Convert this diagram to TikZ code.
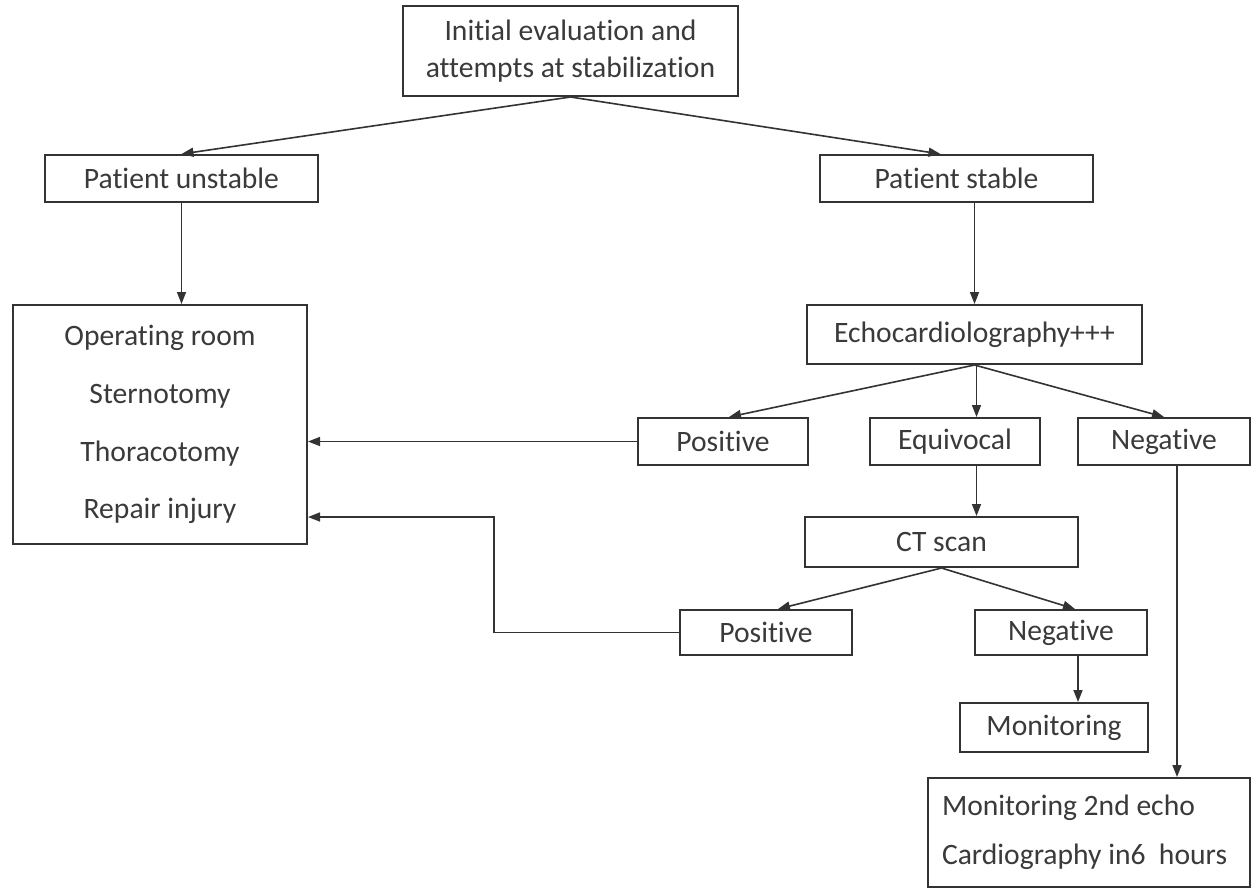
\documentclass[tikz,border=0pt]{standalone}
\usepackage{fontspec}
\setmainfont{Carlito}[Ligatures={NoCommon}]
\usetikzlibrary{arrows.meta,calc}
\definecolor{ink}{HTML}{333333}
\definecolor{txt}{HTML}{3A3A3A}
\begin{document}
\begin{tikzpicture}[x=0.5pt,y=-0.5pt,
  box/.style={draw=ink,line width=1pt,fill=white,text=txt,inner sep=0pt,
    font=\fontsize{14.8}{18.5}\selectfont,align=center},
  conn/.style={draw=ink,line width=0.8pt,-{Triangle[length=6pt,width=4.5pt]}},
  plain/.style={draw=ink,line width=0.8pt}]
\useasboundingbox[fill=white] (0,0) rectangle (1254,890);

\node[box,minimum width=167.5pt,minimum height=45pt] (init) at (570.5,51)
  {Initial evaluation and\\attempts at stabilization};
\node[box,minimum width=136.5pt,minimum height=23.5pt] (unst) at (181.5,178.5) {Patient unstable};
\node[box,minimum width=136.5pt,minimum height=23.5pt] (stab) at (956.5,178.5) {Patient stable};
\node[box,minimum width=147pt,minimum height=119.5pt,
  font=\fontsize{14.8}{28.85}\selectfont] (opr) at (160,424.5)
  {Operating room\\Sternotomy\\Thoracotomy\\Repair injury};
\node[box,minimum width=167.5pt,minimum height=29.5pt] (echo) at (974.5,334.5) {Echocardiolography+++};
\node[box,minimum width=85pt,minimum height=23.5pt] (pos1) at (723,441.5) {Positive};
\node[box,minimum width=85pt,minimum height=23.5pt] (equi) at (955,441.5) {Equivocal};
\node[box,minimum width=86pt,minimum height=23.5pt] (neg1) at (1164,441.5) {Negative};
\node[box,minimum width=136.5pt,minimum height=25pt] (ct) at (941.5,542) {CT scan};
\node[box,minimum width=86pt,minimum height=22.5pt] (pos2) at (766,632.5) {Positive};
\node[box,minimum width=86pt,minimum height=22.5pt] (neg2) at (1061,632.5) {Negative};
\node[box,minimum width=94pt,minimum height=24.5pt] (mon) at (1054,727.5) {Monitoring};
\node[box,text width=147pt,inner xsep=7pt,minimum height=54.5pt,align=flush left,
  font=\fontsize{14.8}{24.5}\selectfont] (bot) at (1089,832.5)
  {Monitoring 2nd echo\\Cardiography in6\ \ hours};

\coordinate (jog) at (494,517);

\draw[conn] (init.south) -- (unst.north);
\draw[conn] (init.south) -- ([xshift=-8pt]stab.north);
\draw[conn] (unst.south) -- (unst.south |- opr.north);
\draw[conn] (echo.north |- stab.south) -- (echo.north);
\draw[conn] (echo.south) -- ([xshift=3pt]pos1.north);
\draw[conn] ([xshift=1pt]echo.south) -- ([xshift=1pt]echo.south |- equi.north);
\draw[conn] (echo.south) -- (neg1.north);
\draw[conn] (pos1.west) -- (pos1.west -| opr.east);
\draw[conn] ([xshift=1pt]echo.south |- equi.south) -- ([xshift=1pt]echo.south |- ct.north);
\draw[conn] (ct.south) -- ([xshift=6pt]pos2.north);
\draw[conn] (ct.south) -- ([xshift=7pt]neg2.north);
\draw[conn] (pos2.west) -| (jog) -- (jog -| opr.east);
\draw[conn] ([xshift=8.5pt]neg2.south) -- ([xshift=8.5pt]neg2.south |- mon.north);
\draw[conn] ([xshift=6.5pt]neg1.south) -- ([xshift=6.5pt]neg1.south |- bot.north);
\end{tikzpicture}
\end{document}
